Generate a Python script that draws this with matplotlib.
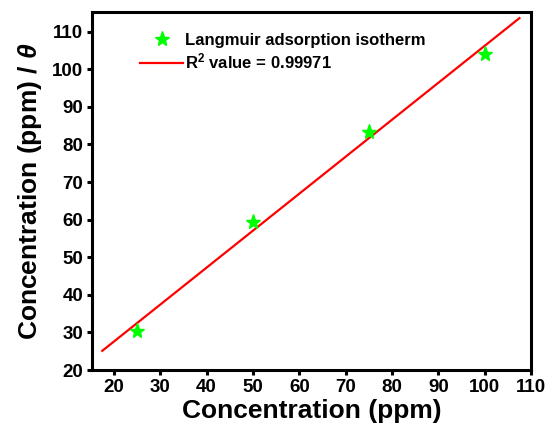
import matplotlib
matplotlib.use("Agg")
import matplotlib.pyplot as plt
from matplotlib.ticker import MultipleLocator

plt.rcParams['font.family'] = ['Liberation Sans', 'DejaVu Sans']
plt.rcParams['font.weight'] = 'bold'
plt.rcParams['mathtext.fontset'] = 'custom'
plt.rcParams['mathtext.it'] = 'Liberation Sans:italic:bold'
plt.rcParams['mathtext.rm'] = 'Liberation Sans:bold'

conc = [25, 50, 75, 100]
ratio = [30.3, 59.5, 83.3, 104.0]
fit_x = [17.5, 107.5]
fit_y = [25.1, 113.6]

fig = plt.figure(figsize=(5.48, 4.32), dpi=100)
ax = fig.add_axes([0.168, 0.1435, 0.801, 0.8285])

ax.plot(conc, ratio, linestyle='none', marker='*', markersize=11,
        color='#00FF00', markeredgecolor='#00FF00', label='Langmuir adsorption isotherm', zorder=3)
ax.plot(fit_x, fit_y, color='#FF0000', linewidth=1.6,
        label=r'R$^{\mathregular{2}}$ value = 0.99971', zorder=2)

ax.set_xlim(15.3, 110)
ax.set_ylim(20, 115.2)
ax.xaxis.set_major_locator(MultipleLocator(10))
ax.yaxis.set_major_locator(MultipleLocator(10))

for s in ax.spines.values():
    s.set_linewidth(2.2)
ax.tick_params(which='major', direction='out', length=3.5, width=2.2, labelsize=13.5, pad=3)
ax.tick_params(axis='both', which='both', top=False, right=False)
for lab in ax.get_xticklabels() + ax.get_yticklabels():
    lab.set_fontweight('bold')

ax.set_xlabel('Concentration (ppm)', fontsize=19, fontweight='bold', labelpad=2)
ax.set_ylabel(r'Concentration (ppm) / $\theta$', fontsize=19, fontweight='bold', labelpad=6)

leg = ax.legend(loc='upper left', bbox_to_anchor=(0.094, 0.96), frameon=False,
                handlelength=2.6, handletextpad=0.12, labelspacing=0.22,
                borderaxespad=0.0, prop={'weight': 'bold', 'size': 12})

fig.savefig('out.png', dpi=100)
